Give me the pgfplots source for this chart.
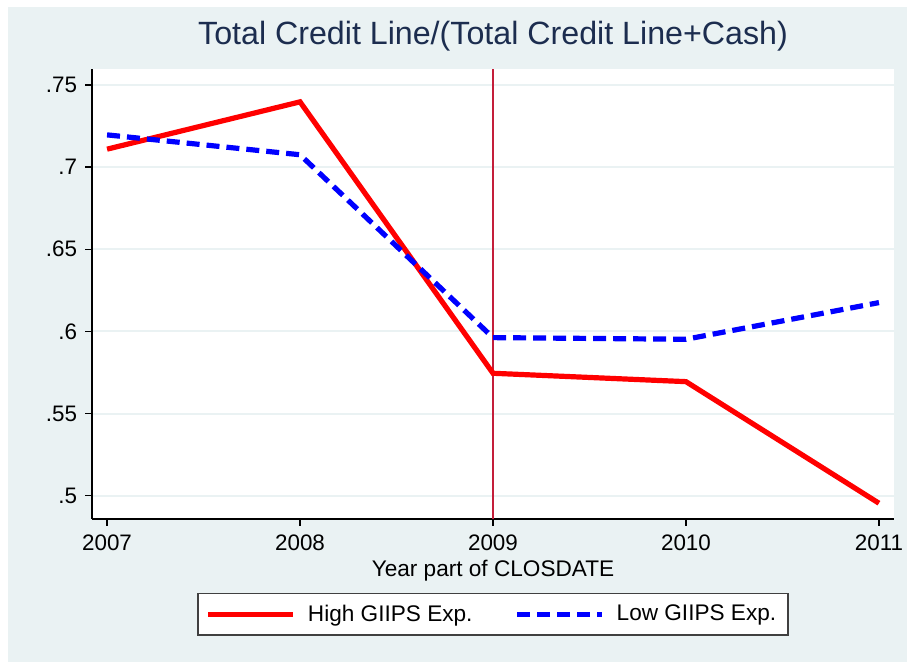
\documentclass[border=0pt]{standalone}
\usepackage{fontspec}
\setmainfont{Liberation Sans}
\setsansfont{Liberation Sans}
\usepackage{pgfplots}
\pgfplotsset{compat=1.18}
\usepackage{xcolor}
\definecolor{stbg}{HTML}{EAF2F3}
\definecolor{stgrid}{HTML}{EAF2F3}
\definecolor{sttitle}{HTML}{1C2D4F}
\definecolor{stxline}{HTML}{C41E3A}

\begin{document}
\begin{tikzpicture}
  % 1 px of the reference = 0.5pt
  \path[use as bounding box] (0,0) rectangle (453.5pt,-331pt);
  \fill[white] (0,0) rectangle (453.5pt,-331pt);
  \fill[stbg] (4pt,-3.5pt) rectangle (453.5pt,-331pt);

  \begin{axis}[
    scale only axis,
    width=401pt, height=225pt,
    at={(46pt,-259.5pt)}, anchor=south west,
    axis background/.style={fill=white},
    axis lines*=left,
    axis line style={black, line width=0.75pt},
    xmin=2006.922, xmax=2011.078,
    ymin=0.4858, ymax=0.7597,
    xtick={2007,2008,2009,2010,2011},
    xticklabels={2007,2008,2009,2010,2011},
    ytick={0.5,0.55,0.6,0.65,0.7,0.75},
    yticklabels={.5,.55,.6,.65,.7,.75},
    tick align=outside,
    major tick length=3.5pt,
    tick style={black, line width=0.6pt},
    ymajorgrids,
    grid style={stgrid, line width=1pt},
    ticklabel style={font=\fontsize{11.2}{13}\selectfont},
    yticklabel style={xshift=-0.5pt},
    xticklabel style={yshift=-1pt},
    title={Total Credit Line/(Total Credit Line+Cash)},
    title style={at={(axis description cs:0.5,1.0267)}, anchor=base,
                 font=\fontsize{16.1}{19}\selectfont, text=sttitle},
    xlabel={Year part of CLOSDATE},
    xlabel style={at={(axis description cs:0.5,-0.1267)}, anchor=base,
                  font=\fontsize{11.3}{13}\selectfont},
    legend columns=2,
    legend style={at={(axis description cs:0.5,-0.1644)}, anchor=north,
                  draw=black!75, line width=0.75pt, fill=white,
                  inner xsep=4pt, inner ysep=3.5pt,
                  font=\fontsize{11.3}{13}\selectfont,
                  /tikz/every odd column/.append style={column sep=4pt},
                  /tikz/every even column/.append style={column sep=19pt}},
    legend cell align=left,
    legend image code/.code={\draw[#1] (0pt,0pt) -- (42.5pt,0pt);},
  ]
    \addplot[forget plot, stxline, line width=0.75pt]
      coordinates {(2009,0.4858) (2009,0.7597)};
    \addplot[red, line width=2.6pt, line join=miter]
      coordinates {(2007,0.7109) (2008,0.7397) (2009,0.5745) (2010,0.5694) (2011,0.4954)};
    \addlegendentry{High GIIPS Exp.}
    \addplot[blue, line width=2.6pt, dash pattern=on 6.5pt off 3.5pt]
      coordinates {(2007,0.7196) (2008,0.7075) (2009,0.5962) (2010,0.5952) (2011,0.6175)};
    \addlegendentry{Low GIIPS Exp.}
  \end{axis}
\end{tikzpicture}
\end{document}
